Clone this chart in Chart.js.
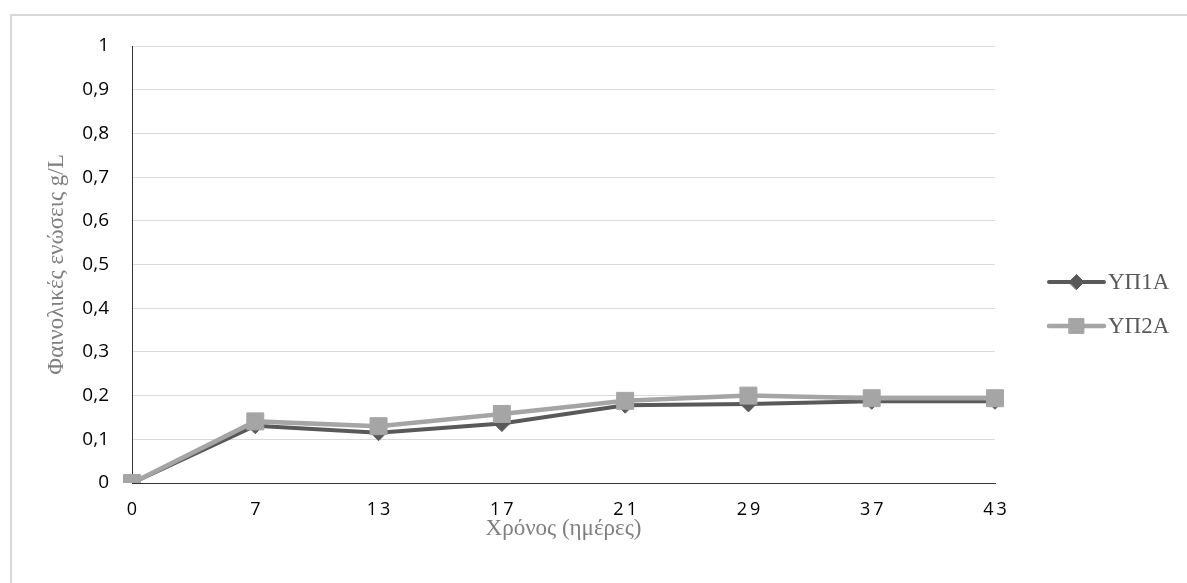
<!DOCTYPE html>
<html lang="el">
<head>
<meta charset="utf-8">
<title>Φαινολικές ενώσεις</title>
<script src="https://cdn.jsdelivr.net/npm/chart.js@4/dist/chart.umd.min.js"></script>
<style>
  html, body { margin: 0; padding: 0; background: #ffffff; }
  #wrap { width: 1187px; height: 583px; position: relative; }
</style>
</head>
<body>
<div id="wrap"><canvas id="chart" width="1187" height="583"></canvas></div>
<script>
// Sampling days (x axis categories)
const days = ['0', '7', '13', '17', '21', '29', '37', '43'];

// Phenolic compounds, g/L
const yp1a = [0, 0.131, 0.115, 0.136, 0.178, 0.181, 0.187, 0.187];
const yp2a = [0, 0.141, 0.130, 0.158, 0.188, 0.200, 0.194, 0.194];

// Y axis tick labels (decimal comma)
const yTickLabels = ['0', '0,1', '0,2', '0,3', '0,4', '0,5', '0,6', '0,7', '0,8', '0,9', '1'];

const seriesNames = ['ΥΠ1Α', 'ΥΠ2Α'];

const DARK = '#595959';
const LIGHT = '#a5a5a5';
const SERIF = '"Liberation Serif", "Times New Roman", serif';

// Outer frame of the chart
const frame = {
  id: 'frame',
  beforeDraw(chart) {
    const ctx = chart.ctx;
    ctx.save();
    ctx.strokeStyle = '#d9d9d9';
    ctx.lineWidth = 2;
    ctx.strokeRect(11, 15, chart.width + 20, chart.height + 20);
    ctx.restore();
  }
};

// Letter spacing on the x tick labels only
const tickSpacing = {
  id: 'tickSpacing',
  beforeDraw(chart) {
    const s = chart.scales.x;
    if (!s || s._spaced) return;
    const orig = s.drawLabels;
    s.drawLabels = function (area) {
      const c = this.ctx;
      c.save();
      c.letterSpacing = '3px';
      c.translate(1.5, 0);
      orig.call(this, area);
      c.restore();
    };
    s._spaced = true;
  }
};

// Legend on the right: line + marker swatch followed by the series name
const sideLegend = {
  id: 'sideLegend',
  afterDraw(chart, args, opts) {
    const ctx = chart.ctx;
    const area = chart.chartArea;
    chart.data.datasets.forEach((ds, i) => {
      const y = opts.top + i * opts.spacing;
      const x0 = area.right + opts.offset;
      const x1 = x0 + opts.swatch;
      ctx.save();
      ctx.strokeStyle = ds.borderColor;
      ctx.lineWidth = ds.borderWidth;
      ctx.lineCap = 'round';
      ctx.beginPath();
      ctx.moveTo(x0, y);
      ctx.lineTo(x1, y);
      ctx.stroke();
      ctx.fillStyle = ds.pointBackgroundColor;
      ctx.strokeStyle = ds.pointBorderColor;
      ctx.lineWidth = 1;
      Chart.helpers.drawPoint(ctx, {
        pointStyle: ds.pointStyle,
        radius: ds.pointStyle === 'rect' ? 10.5 : 7.5,
        rotation: 0,
        borderWidth: 1
      }, (x0 + x1) / 2, y);
      ctx.fillStyle = '#595959';
      ctx.font = '23px ' + SERIF;
      ctx.textBaseline = 'middle';
      ctx.textAlign = 'left';
      ctx.fillText(ds.label, x1 + 4, y + 1);
      ctx.restore();
    });
  }
};

const ctx = document.getElementById('chart').getContext('2d');

new Chart(ctx, {
  type: 'line',
  data: {
    labels: days,
    datasets: [
      {
        label: seriesNames[0],
        data: yp1a,
        borderColor: DARK,
        backgroundColor: DARK,
        borderWidth: 4,
        pointStyle: 'rectRot',
        pointRadius: 8,
        pointHoverRadius: 8,
        pointBorderWidth: 1,
        pointBackgroundColor: DARK,
        pointBorderColor: DARK,
        tension: 0,
        order: 1
      },
      {
        label: seriesNames[1],
        data: yp2a,
        borderColor: LIGHT,
        backgroundColor: LIGHT,
        borderWidth: 4.5,
        pointStyle: 'rect',
        pointRadius: 12,
        pointHoverRadius: 12,
        pointBorderWidth: 1,
        pointBackgroundColor: LIGHT,
        pointBorderColor: LIGHT,
        tension: 0,
        order: 0
      }
    ]
  },
  options: {
    responsive: false,
    animation: false,
    devicePixelRatio: 1,
    layout: { padding: { top: 46, right: 192, bottom: 0, left: 0 } },
    plugins: {
      legend: { display: false },
      tooltip: { enabled: false },
      sideLegend: { top: 282, spacing: 44, offset: 54, swatch: 55 }
    },
    scales: {
      x: {
        offset: false,
        grid: { display: false, drawTicks: false },
        border: { display: true, color: '#333333', width: 1 },
        ticks: {
          color: '#000000',
          padding: 16,
          maxRotation: 0,
          autoSkip: false,
          font: { family: '"Open Sans", sans-serif', size: 18 }
        },
        title: {
          display: true,
          text: 'Χρόνος (ημέρες)',
          color: '#7f7f7f',
          font: { family: SERIF, size: 23, lineHeight: 1 },
          padding: { top: 0, bottom: 43 }
        },
        afterFit(scale) { scale.height = 100; }
      },
      y: {
        min: 0,
        max: 1,
        grid: { color: '#d9d9d9', lineWidth: 1, drawTicks: false },
        border: { display: true, color: '#333333', width: 1 },
        ticks: {
          stepSize: 0.1,
          color: '#000000',
          padding: 23,
          font: { family: '"Open Sans", sans-serif', size: 19 },
          callback: (v, i) => yTickLabels[i]
        },
        title: {
          display: true,
          text: 'Φαινολικές ενώσεις g/L',
          color: '#7f7f7f',
          font: { family: SERIF, size: 23, lineHeight: 1 },
          padding: { top: 45, bottom: 0 }
        },
        afterFit(scale) { scale.width = 132; }
      }
    }
  },
  plugins: [frame, tickSpacing, sideLegend]
});
</script>
</body>
</html>
